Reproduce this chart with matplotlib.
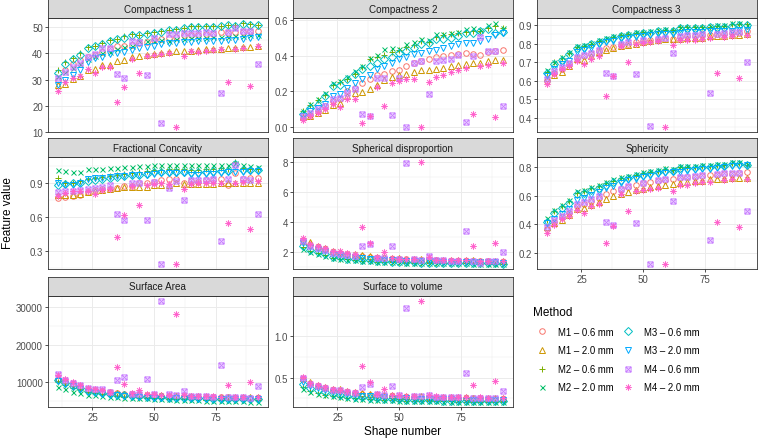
# Shape features per reconstruction method, one small panel per feature
import matplotlib
matplotlib.use("Agg")
import matplotlib.pyplot as plt
from matplotlib.lines import Line2D
from matplotlib.path import Path
from matplotlib.ticker import FixedLocator, AutoMinorLocator

shape_number = [11, 14, 17, 20, 23, 26, 29, 32, 35, 38, 41, 44, 47, 50,
                53, 56, 59, 62, 65, 68, 71, 74, 77, 80, 83, 86, 89, 92]

methods = ["M1 – 0.6 mm", "M1 – 2.0 mm", "M2 – 0.6 mm", "M2 – 2.0 mm",
           "M3 – 0.6 mm", "M3 – 2.0 mm", "M4 – 0.6 mm", "M4 – 2.0 mm"]

# each panel: one row per method, same order as `methods`
compactness_1 = [
    [30.0, 33.5, 36.0, 37.4, 38.8, 39.5, 40.5, 41.5, 42.8, 43.0, 43.3, 44.0, 44.5, 45.2, 45.5, 46.0, 46.1, 46.9, 47.0, 47.1, 47.3, 47.5, 48.0, 47.9, 48.2, 48.3, 48.4, 48.7],
    [28.0, 28.5, 30.2, 31.5, 33.8, 34.2, 35.5, 35.7, 37.0, 37.4, 38.6, 39.0, 39.3, 39.6, 40.0, 40.5, 40.8, 40.9, 41.0, 41.2, 41.5, 41.6, 41.8, 42.0, 42.2, 42.3, 42.5, 42.8],
    [33.5, 36.6, 38.3, 40.2, 42.3, 43.0, 43.8, 45.0, 45.5, 46.5, 47.3, 47.2, 47.8, 48.0, 48.5, 49.0, 49.2, 49.8, 50.3, 50.3, 50.4, 50.5, 50.6, 51.0, 50.8, 51.4, 51.2, 51.0],
    [31.5, 33.0, 34.5, 36.0, 38.0, 39.0, 40.0, 40.7, 41.8, 42.5, 43.0, 44.6, 44.6, 44.6, 45.0, 44.8, 45.3, 45.6, 45.8, 46.0, 46.0, 46.1, 46.1, 46.2, 46.6, 46.7, 46.9, 47.2],
    [32.5, 35.8, 37.8, 39.5, 42.0, 42.8, 43.5, 44.6, 45.3, 46.0, 47.0, 47.0, 47.4, 47.8, 48.2, 48.8, 49.0, 49.6, 50.0, 50.1, 50.0, 50.2, 50.4, 50.8, 50.6, 51.2, 51.0, 51.0],
    [28.0, 30.0, 31.9, 33.8, 36.8, 38.1, 38.7, 39.6, 40.3, 40.7, 41.3, 42.0, 42.6, 43.0, 43.5, 43.9, 43.9, 44.3, 44.5, 44.6, 44.6, 44.7, 44.8, 45.0, 45.2, 45.4, 45.9, 46.1],
    [30.5, 33.0, 35.0, 36.5, 38.5, 39.8, 42.2, 42.2, 32.3, 30.5, 44.6, 44.4, 31.8, 46.0, 13.3, 47.4, 47.4, 47.6, 47.8, 47.8, 48.0, 47.9, 25.0, 48.2, 49.6, 48.5, 48.4, 36.0],
    [25.8, 29.0, 30.6, 31.3, 33.9, 32.6, 34.8, 34.8, 21.5, 27.3, 38.0, 32.7, 39.1, 39.4, 39.6, 40.0, 11.9, 39.0, 40.9, 40.7, 40.9, 41.3, 41.7, 29.2, 41.7, 42.2, 27.4, 42.8],
]

compactness_2 = [
    [0.052, 0.068, 0.090, 0.118, 0.146, 0.155, 0.202, 0.220, 0.249, 0.267, 0.290, 0.295, 0.314, 0.320, 0.342, 0.360, 0.370, 0.383, 0.394, 0.398, 0.402, 0.407, 0.413, 0.411, 0.402, 0.420, 0.426, 0.432],
    [0.058, 0.062, 0.077, 0.095, 0.121, 0.136, 0.174, 0.193, 0.196, 0.211, 0.234, 0.264, 0.282, 0.290, 0.295, 0.308, 0.320, 0.320, 0.327, 0.333, 0.342, 0.346, 0.351, 0.360, 0.360, 0.370, 0.376, 0.376],
    [0.088, 0.122, 0.150, 0.180, 0.236, 0.250, 0.270, 0.300, 0.335, 0.380, 0.395, 0.405, 0.420, 0.430, 0.450, 0.462, 0.482, 0.478, 0.505, 0.515, 0.520, 0.525, 0.535, 0.540, 0.538, 0.555, 0.565, 0.555],
    [0.093, 0.127, 0.159, 0.189, 0.245, 0.258, 0.282, 0.314, 0.342, 0.385, 0.405, 0.436, 0.445, 0.436, 0.464, 0.475, 0.492, 0.490, 0.520, 0.520, 0.529, 0.533, 0.548, 0.553, 0.544, 0.570, 0.580, 0.557],
    [0.071, 0.108, 0.125, 0.174, 0.230, 0.238, 0.267, 0.295, 0.323, 0.342, 0.360, 0.380, 0.394, 0.413, 0.426, 0.445, 0.464, 0.473, 0.495, 0.495, 0.500, 0.510, 0.529, 0.529, 0.538, 0.548, 0.529, 0.533],
    [0.062, 0.090, 0.108, 0.127, 0.174, 0.183, 0.220, 0.249, 0.267, 0.290, 0.323, 0.342, 0.360, 0.380, 0.394, 0.407, 0.417, 0.426, 0.432, 0.440, 0.454, 0.464, 0.473, 0.473, 0.482, 0.495, 0.514, 0.529],
    [0.065, 0.080, 0.100, 0.118, 0.155, 0.165, 0.190, 0.215, 0.075, 0.062, 0.277, 0.277, 0.069, 0.277, 0.000, 0.357, 0.370, 0.183, 0.370, 0.376, 0.380, 0.402, 0.028, 0.398, 0.507, 0.426, 0.426, 0.118],
    [0.039, 0.060, 0.080, 0.099, 0.127, 0.114, 0.155, 0.159, 0.021, 0.062, 0.226, 0.118, 0.249, 0.258, 0.267, 0.270, 0.000, 0.252, 0.282, 0.290, 0.308, 0.320, 0.333, 0.075, 0.342, 0.346, 0.058, 0.360],
]

compactness_3 = [
    [0.600, 0.645, 0.665, 0.690, 0.725, 0.735, 0.745, 0.760, 0.775, 0.785, 0.795, 0.800, 0.808, 0.815, 0.820, 0.825, 0.830, 0.828, 0.835, 0.840, 0.842, 0.845, 0.848, 0.850, 0.852, 0.858, 0.860, 0.867],
    [0.618, 0.631, 0.649, 0.682, 0.718, 0.715, 0.736, 0.755, 0.764, 0.776, 0.787, 0.791, 0.800, 0.809, 0.813, 0.818, 0.824, 0.824, 0.827, 0.829, 0.829, 0.830, 0.842, 0.842, 0.843, 0.845, 0.849, 0.850],
    [0.650, 0.700, 0.722, 0.750, 0.785, 0.790, 0.800, 0.815, 0.828, 0.838, 0.846, 0.852, 0.860, 0.862, 0.865, 0.870, 0.875, 0.872, 0.888, 0.888, 0.889, 0.890, 0.892, 0.898, 0.897, 0.905, 0.906, 0.905],
    [0.660, 0.704, 0.727, 0.755, 0.787, 0.795, 0.805, 0.818, 0.831, 0.842, 0.849, 0.855, 0.864, 0.864, 0.867, 0.873, 0.878, 0.873, 0.891, 0.891, 0.891, 0.891, 0.893, 0.900, 0.900, 0.909, 0.909, 0.900],
    [0.640, 0.690, 0.715, 0.742, 0.778, 0.785, 0.796, 0.810, 0.822, 0.832, 0.840, 0.846, 0.855, 0.858, 0.860, 0.866, 0.870, 0.868, 0.882, 0.883, 0.884, 0.885, 0.888, 0.890, 0.892, 0.898, 0.900, 0.900],
    [0.627, 0.664, 0.690, 0.709, 0.758, 0.764, 0.776, 0.791, 0.809, 0.813, 0.827, 0.831, 0.836, 0.842, 0.849, 0.852, 0.855, 0.855, 0.860, 0.862, 0.862, 0.864, 0.866, 0.866, 0.868, 0.870, 0.872, 0.873],
    [0.610, 0.655, 0.675, 0.695, 0.730, 0.740, 0.752, 0.765, 0.645, 0.624, 0.800, 0.808, 0.636, 0.820, 0.355, 0.828, 0.832, 0.751, 0.840, 0.845, 0.846, 0.850, 0.536, 0.852, 0.860, 0.862, 0.864, 0.700],
    [0.582, 0.636, 0.664, 0.682, 0.709, 0.690, 0.718, 0.733, 0.518, 0.627, 0.790, 0.700, 0.796, 0.804, 0.809, 0.812, 0.351, 0.791, 0.818, 0.818, 0.822, 0.827, 0.830, 0.645, 0.836, 0.842, 0.618, 0.845],
]

fractional_concavity = [
    [0.770, 0.780, 0.785, 0.800, 0.820, 0.836, 0.848, 0.852, 0.857, 0.871, 0.875, 0.900, 0.905, 0.914, 0.930, 0.935, 0.935, 0.905, 0.915, 0.914, 0.925, 0.930, 0.935, 0.886, 0.987, 0.935, 0.948, 0.950],
    [0.800, 0.795, 0.800, 0.805, 0.820, 0.830, 0.840, 0.845, 0.855, 0.865, 0.868, 0.865, 0.870, 0.880, 0.885, 0.888, 0.900, 0.890, 0.890, 0.895, 0.895, 0.895, 0.900, 0.900, 0.905, 0.900, 0.905, 0.906],
    [0.943, 0.905, 0.905, 0.915, 0.935, 0.950, 0.955, 0.965, 0.975, 0.980, 0.987, 0.995, 1.010, 1.020, 1.020, 1.022, 1.022, 1.022, 1.018, 1.020, 1.022, 1.025, 1.030, 1.028, 1.083, 1.035, 1.028, 1.022],
    [1.016, 1.007, 1.001, 1.001, 1.022, 1.022, 1.028, 1.030, 1.030, 1.039, 1.045, 1.051, 1.051, 1.059, 1.057, 1.059, 1.059, 1.059, 1.059, 1.059, 1.057, 1.059, 1.059, 1.059, 1.074, 1.057, 1.051, 1.039],
    [0.886, 0.895, 0.898, 0.900, 0.920, 0.925, 0.935, 0.945, 0.955, 0.960, 0.968, 0.975, 0.985, 0.995, 1.000, 1.000, 1.000, 0.998, 0.995, 0.998, 1.000, 1.005, 1.010, 1.010, 1.070, 1.020, 1.015, 1.020],
    [0.900, 0.880, 0.885, 0.900, 0.940, 0.943, 0.950, 0.955, 0.965, 0.965, 0.970, 0.975, 0.975, 0.985, 0.990, 0.990, 0.990, 0.990, 0.975, 0.975, 0.980, 0.985, 0.990, 0.995, 1.000, 1.000, 1.005, 1.010],
    [0.820, 0.830, 0.835, 0.840, 0.850, 0.855, 0.865, 0.880, 0.630, 0.572, 0.900, 0.905, 0.575, 0.910, 0.190, 0.862, 0.915, 0.755, 0.925, 0.930, 0.930, 0.935, 0.393, 0.940, 1.060, 0.935, 0.930, 0.625],
    [0.790, 0.813, 0.828, 0.832, 0.835, 0.807, 0.842, 0.845, 0.428, 0.616, 0.877, 0.712, 0.886, 0.894, 0.900, 0.895, 0.190, 0.848, 0.895, 0.900, 0.900, 0.905, 0.905, 0.552, 0.905, 0.910, 0.500, 0.915],
]

spherical_disproportion = [
    [2.80, 2.50, 2.35, 2.20, 2.00, 1.95, 1.85, 1.78, 1.72, 1.68, 1.63, 1.60, 1.57, 1.54, 1.52, 1.50, 1.48, 1.47, 1.45, 1.44, 1.43, 1.42, 1.41, 1.40, 1.40, 1.39, 1.38, 1.37],
    [2.75, 2.67, 2.45, 2.27, 2.05, 2.00, 1.90, 1.85, 1.80, 1.75, 1.70, 1.66, 1.62, 1.60, 1.58, 1.55, 1.52, 1.52, 1.50, 1.49, 1.48, 1.47, 1.46, 1.45, 1.44, 1.44, 1.43, 1.42],
    [2.33, 2.05, 1.92, 1.80, 1.62, 1.58, 1.52, 1.48, 1.44, 1.41, 1.38, 1.36, 1.34, 1.32, 1.31, 1.30, 1.29, 1.29, 1.28, 1.27, 1.26, 1.26, 1.25, 1.25, 1.24, 1.24, 1.23, 1.22],
    [2.22, 2.00, 1.88, 1.78, 1.60, 1.56, 1.50, 1.46, 1.43, 1.40, 1.38, 1.35, 1.33, 1.32, 1.30, 1.29, 1.28, 1.28, 1.27, 1.27, 1.26, 1.25, 1.25, 1.24, 1.23, 1.23, 1.22, 1.22],
    [2.45, 2.15, 2.00, 1.85, 1.70, 1.65, 1.58, 1.52, 1.48, 1.45, 1.42, 1.39, 1.37, 1.35, 1.34, 1.32, 1.31, 1.31, 1.30, 1.29, 1.28, 1.28, 1.27, 1.27, 1.26, 1.26, 1.25, 1.24],
    [2.62, 2.35, 2.20, 2.05, 1.85, 1.80, 1.72, 1.65, 1.60, 1.57, 1.53, 1.50, 1.48, 1.46, 1.44, 1.42, 1.41, 1.40, 1.39, 1.38, 1.37, 1.36, 1.35, 1.35, 1.34, 1.33, 1.32, 1.31],
    [2.78, 2.45, 2.30, 2.15, 1.95, 1.90, 1.80, 1.75, 2.40, 2.56, 1.63, 1.60, 2.44, 1.55, 7.93, 1.52, 1.50, 1.78, 1.47, 1.45, 1.44, 1.43, 3.42, 1.42, 1.30, 1.40, 1.39, 2.04],
    [2.93, 2.56, 2.40, 2.27, 2.10, 2.10, 1.95, 1.90, 3.67, 2.60, 1.67, 2.04, 1.60, 1.57, 1.55, 1.54, 8.00, 1.67, 1.50, 1.49, 1.48, 1.47, 1.46, 2.40, 1.44, 1.43, 2.60, 1.42],
]

sphericity = [
    [0.370, 0.420, 0.455, 0.480, 0.530, 0.545, 0.565, 0.585, 0.610, 0.630, 0.645, 0.660, 0.672, 0.685, 0.695, 0.703, 0.712, 0.715, 0.722, 0.728, 0.732, 0.738, 0.742, 0.745, 0.748, 0.752, 0.755, 0.763],
    [0.384, 0.407, 0.430, 0.464, 0.510, 0.515, 0.533, 0.556, 0.579, 0.595, 0.614, 0.625, 0.637, 0.648, 0.660, 0.667, 0.676, 0.683, 0.690, 0.694, 0.699, 0.703, 0.713, 0.713, 0.717, 0.720, 0.722, 0.722],
    [0.430, 0.490, 0.525, 0.560, 0.622, 0.630, 0.652, 0.668, 0.686, 0.705, 0.720, 0.732, 0.745, 0.756, 0.768, 0.775, 0.785, 0.780, 0.798, 0.799, 0.803, 0.808, 0.809, 0.815, 0.816, 0.826, 0.828, 0.815],
    [0.446, 0.499, 0.533, 0.568, 0.630, 0.637, 0.660, 0.676, 0.694, 0.713, 0.729, 0.740, 0.752, 0.763, 0.775, 0.782, 0.791, 0.786, 0.805, 0.805, 0.809, 0.814, 0.814, 0.821, 0.821, 0.832, 0.832, 0.818],
    [0.420, 0.480, 0.515, 0.550, 0.610, 0.618, 0.640, 0.657, 0.675, 0.694, 0.710, 0.722, 0.735, 0.746, 0.758, 0.766, 0.775, 0.772, 0.790, 0.791, 0.795, 0.800, 0.802, 0.808, 0.810, 0.818, 0.820, 0.812],
    [0.407, 0.441, 0.476, 0.510, 0.568, 0.584, 0.602, 0.625, 0.653, 0.671, 0.687, 0.706, 0.717, 0.729, 0.740, 0.752, 0.759, 0.763, 0.768, 0.772, 0.778, 0.786, 0.788, 0.792, 0.798, 0.805, 0.809, 0.812],
    [0.380, 0.430, 0.462, 0.490, 0.540, 0.555, 0.575, 0.600, 0.418, 0.396, 0.650, 0.665, 0.410, 0.690, 0.125, 0.708, 0.715, 0.565, 0.728, 0.732, 0.737, 0.742, 0.290, 0.748, 0.760, 0.755, 0.758, 0.490],
    [0.338, 0.395, 0.441, 0.460, 0.499, 0.483, 0.529, 0.545, 0.272, 0.390, 0.614, 0.490, 0.630, 0.637, 0.648, 0.653, 0.125, 0.632, 0.676, 0.676, 0.690, 0.694, 0.694, 0.420, 0.706, 0.713, 0.385, 0.715],
]

surface_area = [
    [11000, 10300, 9500, 8900, 8100, 7900, 7600, 7300, 7100, 6950, 6800, 6700, 6600, 6500, 6450, 6400, 6300, 6250, 6200, 6150, 6100, 6050, 6000, 5980, 5950, 5920, 5900, 5880],
    [11200, 10500, 9700, 9100, 8300, 8000, 7700, 7400, 7200, 7000, 6900, 6800, 6700, 6600, 6550, 6450, 6400, 6350, 6300, 6250, 6200, 6150, 6100, 6080, 6050, 6020, 6000, 5980],
    [10200, 9300, 8600, 8000, 7300, 7100, 6800, 6500, 6350, 6200, 6050, 5950, 5850, 5750, 5700, 5650, 5600, 5550, 5500, 5450, 5420, 5400, 5380, 5350, 5330, 5310, 5300, 5280],
    [8860, 8150, 7530, 7090, 6650, 6650, 6400, 6200, 6050, 5950, 5900, 5800, 5700, 5600, 5500, 5450, 5350, 5300, 5250, 5200, 5150, 5100, 5050, 5000, 4950, 4900, 4700, 4850],
    [10600, 9800, 9000, 8400, 7600, 7400, 7100, 6800, 6650, 6500, 6350, 6250, 6150, 6050, 6000, 5950, 5900, 5850, 5800, 5750, 5700, 5680, 5650, 5620, 5600, 5580, 5560, 5540],
    [10400, 9600, 8900, 8200, 7500, 7300, 7000, 6700, 6550, 6400, 6250, 6150, 6050, 5950, 5900, 5850, 5800, 5750, 5700, 5650, 5600, 5580, 5550, 5520, 5500, 5480, 5460, 5440],
    [12100, 10700, 9800, 9200, 8400, 8100, 8300, 7400, 10600, 11410, 7000, 6900, 10880, 6800, 31760, 6900, 6500, 7800, 6350, 6300, 6250, 6200, 14760, 6150, 6100, 6000, 5950, 9120],
    [11940, 10880, 10000, 9300, 8500, 8240, 7900, 7500, 14140, 9470, 7090, 7970, 6900, 6800, 6700, 6600, 28240, 6500, 6400, 6350, 6300, 6250, 6210, 9300, 6150, 6100, 10180, 6000],
]

surface_to_volume = [
    [0.480, 0.420, 0.395, 0.370, 0.345, 0.335, 0.320, 0.308, 0.298, 0.290, 0.283, 0.278, 0.273, 0.268, 0.265, 0.262, 0.260, 0.258, 0.255, 0.253, 0.251, 0.250, 0.248, 0.247, 0.246, 0.245, 0.244, 0.242],
    [0.490, 0.450, 0.415, 0.390, 0.365, 0.355, 0.340, 0.325, 0.310, 0.300, 0.295, 0.290, 0.285, 0.280, 0.276, 0.272, 0.270, 0.268, 0.266, 0.264, 0.262, 0.260, 0.258, 0.256, 0.255, 0.254, 0.253, 0.252],
    [0.380, 0.335, 0.310, 0.290, 0.275, 0.265, 0.255, 0.247, 0.240, 0.235, 0.230, 0.226, 0.223, 0.220, 0.218, 0.216, 0.214, 0.212, 0.211, 0.210, 0.209, 0.208, 0.207, 0.206, 0.205, 0.204, 0.203, 0.202],
    [0.360, 0.325, 0.300, 0.285, 0.270, 0.262, 0.252, 0.244, 0.238, 0.233, 0.228, 0.224, 0.221, 0.218, 0.216, 0.214, 0.212, 0.210, 0.209, 0.208, 0.207, 0.206, 0.205, 0.204, 0.203, 0.202, 0.201, 0.200],
    [0.420, 0.370, 0.345, 0.320, 0.300, 0.290, 0.278, 0.268, 0.260, 0.253, 0.247, 0.242, 0.238, 0.234, 0.231, 0.228, 0.226, 0.224, 0.222, 0.220, 0.219, 0.218, 0.217, 0.216, 0.215, 0.214, 0.213, 0.212],
    [0.450, 0.400, 0.375, 0.350, 0.325, 0.315, 0.302, 0.290, 0.280, 0.272, 0.266, 0.260, 0.255, 0.250, 0.247, 0.244, 0.242, 0.240, 0.238, 0.236, 0.234, 0.232, 0.231, 0.230, 0.229, 0.228, 0.227, 0.226],
    [0.495, 0.425, 0.400, 0.375, 0.352, 0.343, 0.330, 0.318, 0.383, 0.423, 0.295, 0.290, 0.395, 0.282, 1.339, 0.275, 0.272, 0.290, 0.266, 0.264, 0.262, 0.260, 0.552, 0.257, 0.255, 0.253, 0.250, 0.331],
    [0.504, 0.435, 0.410, 0.383, 0.360, 0.350, 0.335, 0.322, 0.637, 0.444, 0.300, 0.355, 0.290, 0.285, 0.280, 0.276, 1.431, 0.285, 0.270, 0.268, 0.265, 0.263, 0.262, 0.411, 0.258, 0.256, 0.452, 0.252],
]

# ggplot hue palette for 8 groups
colors = ["#F8766D", "#CD9600", "#7CAE00", "#00BE67",
          "#00BFC4", "#00A9FF", "#C77CFF", "#FF61CC"]

# ggplot shape 7 (boxed x) and shape 8 (asterisk)
M, L, C = Path.MOVETO, Path.LINETO, Path.CLOSEPOLY
box_x = Path([(-1, -1), (1, -1), (1, 1), (-1, 1), (-1, -1),
              (-1, -1), (1, 1), (-1, 1), (1, -1)],
             [M, L, L, L, C, M, L, M, L])
d = 0.7071
asterisk = Path([(-1, 0), (1, 0), (0, -1), (0, 1),
                 (-d, -d), (d, d), (-d, d), (d, -d)],
                [M, L, M, L, M, L, M, L])
markers = ["o", "^", "+", "x", "D", "v", box_x, asterisk]
msizes = [4.0, 4.4, 4.6, 3.6, 3.6, 4.4, 3.7, 4.8]

panels = [
    ("Compactness 1", compactness_1, [10, 20, 30, 40, 50], "{:.0f}"),
    ("Compactness 2", compactness_2, [0.0, 0.2, 0.4, 0.6], "{:.1f}"),
    ("Compactness 3", compactness_3, [0.4, 0.5, 0.6, 0.7, 0.8, 0.9], "{:.1f}"),
    ("Fractional Concavity", fractional_concavity, [0.3, 0.6, 0.9], "{:.1f}"),
    ("Spherical disproportion", spherical_disproportion, [2, 4, 6, 8], "{:.0f}"),
    ("Sphericity", sphericity, [0.2, 0.4, 0.6, 0.8], "{:.1f}"),
    ("Surface Area", surface_area, [10000, 20000, 30000], "{:.0f}"),
    ("Surface to volume", surface_to_volume, [0.5, 1.0], "{:.1f}"),
]

plt.rcParams["font.family"] = ["Liberation Sans", "DejaVu Sans"]

W, H = 758, 439
fig = plt.figure(figsize=(W / 100, H / 100), dpi=100)

cols_px = [(48, 267.5), (293, 512.6), (537, 756.5)]
rows_px = [(19.3, 133.3), (158.3, 270.0), (296.7, 408.3)]
strip_h = 19.0


def px_rect(x0, x1, y0, y1):
    return [x0 / W, 1 - y1 / H, (x1 - x0) / W, (y1 - y0) / H]


xmin, xmax = min(shape_number), max(shape_number)
xpad = 0.05 * (xmax - xmin)

for k, (title, values, yticks, fmt) in enumerate(panels):
    row, col = divmod(k, 3)
    x0, x1 = cols_px[col]
    y0, y1 = rows_px[row]
    ax = fig.add_axes(px_rect(x0, x1, y0, y1))

    for vals, c, mk, ms in zip(values, colors, markers, msizes):
        ax.plot(shape_number, vals, linestyle="none", marker=mk, ms=ms,
                mfc="none", mec=c, mew=0.7)

    lo = min(min(v) for v in values)
    hi = max(max(v) for v in values)
    ypad = 0.05 * (hi - lo)
    ax.set_ylim(lo - ypad, hi + ypad)
    ax.set_xlim(xmin - xpad, xmax + xpad)

    ax.yaxis.set_major_locator(FixedLocator(yticks))
    ax.set_yticklabels([fmt.format(t) for t in yticks])
    ax.xaxis.set_major_locator(FixedLocator([25, 50, 75]))
    ax.xaxis.set_minor_locator(AutoMinorLocator(2))
    ax.yaxis.set_minor_locator(AutoMinorLocator(2))

    ax.grid(which="major", color="#EBEBEB", lw=0.7)
    ax.grid(which="minor", color="#EBEBEB", lw=0.35)
    ax.set_axisbelow(True)
    ax.tick_params(which="minor", length=0)
    ax.tick_params(which="major", length=2.2, width=0.6, color="#333333",
                   labelsize=7.0, labelcolor="#4D4D4D", pad=1.5)

    show_x = k in (5, 6, 7)
    ax.tick_params(axis="x", bottom=show_x, labelbottom=show_x)
    for sp in ax.spines.values():
        sp.set_color("#333333")
        sp.set_linewidth(0.6)

    # facet strip
    sax = fig.add_axes(px_rect(x0, x1, y0 - strip_h, y0))
    sax.set_facecolor("#D9D9D9")
    sax.set_xticks([])
    sax.set_yticks([])
    for sp in sax.spines.values():
        sp.set_color("#333333")
        sp.set_linewidth(0.6)
    sax.text(0.5, 0.5, title, ha="center", va="center", fontsize=7.1,
             color="#1A1A1A", transform=sax.transAxes)

fig.text(402.5 / W, 1 - 432.5 / H, "Shape number", ha="center", va="center",
         fontsize=8.5)
fig.text(8 / W, 1 - 213 / H, "Feature value", ha="center", va="center",
         rotation=90, fontsize=8.5)

handles = [Line2D([], [], linestyle="none", marker=mk, ms=ms, mfc="none",
                  mec=c, mew=0.7)
           for c, mk, ms in zip(colors, markers, msizes)]
fig.legend(handles, methods, ncol=2, title="Method", loc="upper left",
           bbox_to_anchor=(533 / W, 1 - 307 / H), frameon=False,
           fontsize=6.9, title_fontsize=8.5, alignment="left",
           borderpad=0, borderaxespad=0, handlelength=1.88,
           handletextpad=0.73, columnspacing=0.52, labelspacing=0.9)

fig.savefig("out.png", dpi=100)
